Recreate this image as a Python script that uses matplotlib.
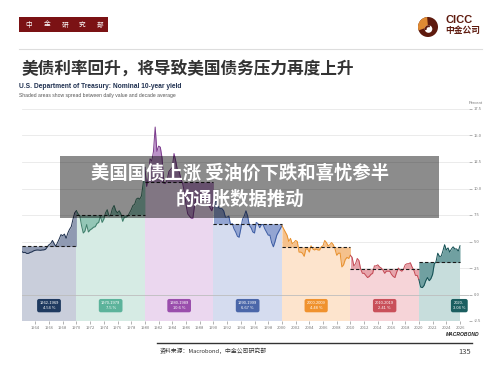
import numpy as np
import matplotlib.pyplot as plt
from matplotlib.patches import Rectangle, Circle, Wedge
from matplotlib.lines import Line2D

plt.rcParams['font.family'] = ['Noto Sans CJK SC', 'DejaVu Sans']

# 10-year yield, quarterly readings (percent), one list per decade
y1960s = [4.08, 3.95, 3.98, 3.87, 3.88, 3.97, 4.02, 4.12,
          4.17, 4.20, 4.19, 4.17, 4.20, 4.21, 4.27, 4.50,
          4.70, 4.80, 5.10, 4.80, 4.55, 4.90, 5.25, 5.65,
          5.55, 5.70, 5.30, 5.80, 6.15, 6.40, 7.10, 7.70]
y1970s = [7.90, 7.60, 7.40, 6.50, 5.80, 6.00, 6.60, 5.90,
          6.10, 6.20, 6.35, 6.40, 6.70, 6.80, 7.40, 6.80,
          7.10, 7.70, 8.00, 7.40, 7.50, 8.10, 8.40, 7.90,
          7.70, 7.90, 7.60, 6.90, 7.30, 7.30, 7.40, 7.70,
          8.00, 8.40, 8.50, 9.00, 9.10, 9.00, 9.30, 10.50]
y1980s = [12.0, 10.2, 11.0, 12.8, 12.6, 13.5, 15.8, 13.5,
          14.0, 13.9, 12.9, 10.5, 10.5, 10.8, 11.6, 11.8,
          12.0, 13.3, 12.6, 11.7, 11.6, 10.9, 10.5, 9.7,
          8.5, 7.6, 7.4, 7.2, 7.2, 8.4, 9.3, 9.0,
          8.5, 9.0, 9.1, 9.0, 9.2, 8.5, 8.2, 7.9]
y1990s = [8.4, 8.7, 8.8, 8.2, 8.1, 8.1, 7.9, 7.3,
          7.3, 7.4, 6.6, 6.7, 6.2, 5.9, 5.5, 5.4,
          6.2, 7.1, 7.4, 7.9, 7.4, 6.5, 6.3, 5.9,
          5.8, 6.8, 6.7, 6.3, 6.6, 6.6, 6.2, 5.9,
          5.6, 5.6, 4.9, 4.5, 5.0, 5.6, 5.9, 6.2]
y2000s = [6.5, 6.2, 5.9, 5.6, 5.0, 5.3, 4.8, 4.9,
          5.1, 5.0, 4.0, 4.0, 3.9, 3.6, 4.3, 4.3,
          4.0, 4.6, 4.3, 4.2, 4.3, 4.2, 4.2, 4.5,
          4.6, 5.1, 4.9, 4.6, 4.7, 4.9, 4.7, 4.3,
          3.7, 3.9, 3.9, 2.6, 2.8, 3.3, 3.5, 3.4]
y2010s = [3.7, 3.5, 2.7, 2.9, 3.4, 3.2, 2.4, 2.0,
          2.0, 1.8, 1.6, 1.7, 1.9, 2.0, 2.7, 2.7,
          2.8, 2.6, 2.5, 2.3, 2.0, 2.2, 2.2, 2.2,
          1.9, 1.7, 1.6, 2.1, 2.5, 2.3, 2.2, 2.4,
          2.8, 2.9, 2.9, 3.0, 2.6, 2.3, 1.8, 1.8]
y2020s = [1.4, 0.7, 0.65, 0.85, 1.3, 1.6, 1.3, 1.5,
          1.9, 2.9, 3.1, 3.9, 3.6, 3.6, 4.1, 4.7,
          4.2, 4.4, 4.0, 4.3, 4.5, 4.3, 4.3, 4.1]
last_value = 4.6  # start of 2026

series = [y1960s, y1970s, y1980s, y1990s, y2000s, y2010s, y2020s]
starts = [1962, 1970, 1980, 1990, 2000, 2010, 2020]
ends = [1970, 1980, 1990, 2000, 2010, 2020, 2026]
averages = [4.54, 7.5, 10.6, 6.67, 4.48, 2.41, 3.04]
decade_names = ['1962-1969', '1970-1979', '1980-1989', '1990-1999',
                '2000-2009', '2010-2019', '2020-']
avg_labels = ['4.54 %', '7.5 %', '10.6 %', '6.67 %', '4.48 %', '2.41 %', '3.04 %']

line_cols = ['#1d2f4d', '#3f7d6a', '#7b3b8c', '#3b5ba3', '#e8902c', '#c34853', '#124e52']
spread_cols = ['#8f9ab2', '#93c6b6', '#bb92c8', '#93a5d2', '#f5c18c', '#e7a5ac', '#70a0a1']
base_cols = ['#c9cedb', '#d6ebe4', '#ebd7ef', '#d5dcef', '#fde4cd', '#f6d4d8', '#c7dddc']
box_cols = ['#1f3a60', '#5cb39b', '#9a4eac', '#4b67a9', '#f0922e', '#c9505a', '#1b5e60']

W, H = 500, 375
fig = plt.figure(figsize=(5, 3.75), dpi=100)

# plot area
x_left, x_right, y_bot, y_top = 21.6, 469, 321, 109
ax = fig.add_axes([x_left / W, 1 - y_bot / H, (x_right - x_left) / W, (y_bot - y_top) / H])
ax.set_xlim(1962, 1962 + (x_right - x_left) / 6.85)
ax.set_ylim(-2.5, 17.5)

for i, vals in enumerate(series):
    xs = starts[i] + np.arange(len(vals)) / 4
    nxt = series[i + 1][0] if i < 6 else last_value
    xs = np.append(xs, ends[i])
    ys = np.append(vals, nxt)
    avg = averages[i]
    ax.fill_between([starts[i], ends[i]], -2.5, avg, color=base_cols[i], lw=0, zorder=1)
    ax.fill_between(xs, ys, avg, color=spread_cols[i], lw=0, zorder=2)
    ax.plot(xs, ys, color=line_cols[i], lw=0.7, zorder=4)
    ax.hlines(avg, starts[i], ends[i], colors='#1a1a1a', linestyles=(0, (3, 2)), lw=0.8, zorder=5)
    cx = (starts[i] + ends[i]) / 2 if i < 6 else 2025.9
    ax.text(cx, -1.05, decade_names[i] + '\n' + avg_labels[i], ha='center', va='center',
            fontsize=2.9, color='white', family='Liberation Sans', linespacing=1.3, zorder=6,
            bbox=dict(boxstyle='round,pad=0.55,rounding_size=0.5', fc=box_cols[i], ec='none'))

ax.axhline(0, color='#bdbdbd', lw=0.6, zorder=3)
ax.set_yticks(np.arange(-2.5, 17.6, 2.5))
ax.set_yticklabels([f'{v:.1f}' for v in np.arange(-2.5, 17.6, 2.5)])
ax.yaxis.tick_right()
ax.grid(axis='y', color='#e8e8e8', lw=0.6, zorder=0)
ax.set_axisbelow(True)
ax.set_xticks(np.arange(1964, 2027, 2))
ax.tick_params(axis='both', labelsize=3.0, colors='#777777', length=2, width=0.4, pad=1.5)
for s in ax.spines.values():
    s.set_visible(False)

# header
fig.add_artist(Rectangle((19 / W, 1 - 32 / H), 89 / W, 15 / H, transform=fig.transFigure,
                         fc='#7b1214', ec='none'))
for i, ch in enumerate('中金研究部'):
    fig.text((29 + i * 17.8) / W, 1 - 24.5 / H, ch, ha='center', va='center',
             fontsize=4.8, color='white')
fig.add_artist(Line2D([19 / W, 482 / W], [1 - 49 / H, 1 - 49 / H], transform=fig.transFigure,
                      color='#dddddd', lw=0.8))

# logo
lax = fig.add_axes([418 / W, 1 - 37 / H, 20 / W, 20 / H])
lax.set_aspect('equal')
lax.set_xlim(-1, 1)
lax.set_ylim(-1, 1)
lax.axis('off')
lax.add_patch(Circle((0, 0), 1, fc='#5e1a0e', ec='none'))
lax.add_patch(Wedge((0, 0), 1, 95, 200, fc='#df8a33', ec='none'))
lax.add_patch(Circle((0.05, -0.2), 0.38, fc='white', ec='none'))
lax.add_patch(Wedge((0.05, -0.2), 0.38, 60, 200, width=0.2, fc='#5e1a0e', ec='none'))
fig.text(445 / W, 1 - 20 / H, 'CICC', fontsize=8, weight='bold', color='#5e1a0e',
         family='Liberation Sans', va='center')
fig.text(445 / W, 1 - 31 / H, '中金公司', fontsize=6.3, weight='bold', color='#5e1a0e', va='center')

# titles
fig.text(22 / W, 1 - 70 / H, '美债利率回升，将导致美国债务压力再度上升', fontsize=12,
         weight='bold', color='#333333', va='center')
fig.text(19 / W, 1 - 87 / H, 'U.S. Department of Treasury: Nominal 10-year yield', fontsize=4.8,
         weight='bold', color='#1f3050', family='Liberation Sans', va='center')
fig.text(19 / W, 1 - 96 / H, 'Shaded areas show spread between daily value and decade average',
         fontsize=3.6, color='#555555', family='Liberation Sans', va='center')
fig.text(469 / W, 1 - 103 / H, 'Percent', fontsize=3, color='#777777', family='Liberation Sans',
         va='center')

# footer
fig.add_artist(Line2D([157 / W, 472 / W], [1 - 343 / H, 1 - 343 / H], transform=fig.transFigure,
                      color='#333333', lw=1))
fig.text(160 / W, 1 - 351 / H, '资料来源：Macrobond，中金公司研究部', fontsize=4.2,
         color='#333333', va='center')
fig.text(465 / W, 1 - 352 / H, '135', fontsize=5.5, color='#444444', ha='center', va='center')
fig.text(463 / W, 1 - 335 / H, 'MACROBOND', fontsize=3.6, weight='bold', style='italic',
         color='#222222', ha='center', va='center', family='Liberation Sans')

# overlay caption
fig.add_artist(Rectangle((60 / W, 1 - 218 / H), 379 / W, 62 / H, transform=fig.transFigure,
                         fc='black', alpha=0.45, ec='none', zorder=10))
fig.text(240 / W, 1 - 173 / H, '美国国债上涨 受油价下跌和喜忧参半', fontsize=13.2,
         weight='bold', color='white', ha='center', va='center', zorder=11)
fig.text(240 / W, 1 - 199 / H, '的通胀数据推动', fontsize=13.2,
         weight='bold', color='white', ha='center', va='center', zorder=11)

fig.savefig('out.png', dpi=100)
